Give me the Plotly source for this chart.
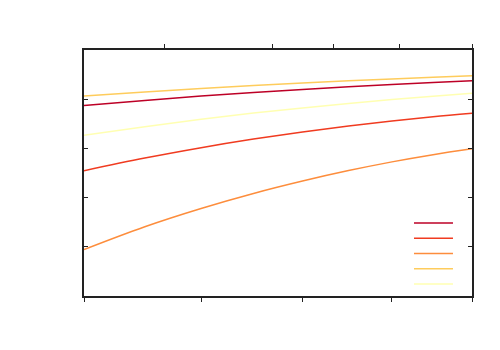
import math
import plotly.graph_objects as go

x_vals = [6, 6.5, 7, 7.5, 8, 8.5, 9, 9.5, 10]

series_dark_red = [3.872, 3.974, 4.063, 4.136, 4.197, 4.252, 4.299, 4.339, 4.376]
series_red_orange = [2.547, 2.803, 3.014, 3.189, 3.335, 3.457, 3.559, 3.644, 3.713]
series_orange = [0.945, 1.409, 1.780, 2.085, 2.337, 2.549, 2.726, 2.872, 2.992]
series_light_orange = [4.065, 4.144, 4.215, 4.276, 4.329, 4.374, 4.413, 4.447, 4.478]
series_pale_yellow = [3.266, 3.441, 3.591, 3.718, 3.823, 3.915, 3.992, 4.059, 4.120]

series = [series_dark_red, series_red_orange, series_orange, series_light_orange, series_pale_yellow]
colors = ["#bd0026", "#f03b20", "#fd8d3c", "#fecc5c", "#ffffb2"]

bottom_ticks = [6, 7, 8, 9, 10]
top_ticks = [20 / 3, 100 / 13, 25 / 3, 100 / 11, 10]
y_ticks = [0, 1, 2, 3, 4, 5]

fig = go.Figure()
for ys, c in zip(series, colors):
    fig.add_trace(go.Scatter(x=x_vals, y=ys, mode="lines",
                             line=dict(color=c, width=1.5, shape="spline"),
                             showlegend=False, hoverinfo="skip"))

# legend keys (the reference legend carries no text)
shapes = []
lx0, lx1 = 0.8505, 0.951
ly_top, ly_step = 0.2967, 0.0620
for i, c in enumerate(colors):
    yy = ly_top - i * ly_step
    shapes.append(dict(type="line", xref="paper", yref="paper",
                       x0=lx0, x1=lx1, y0=yy, y1=yy,
                       line=dict(color=c, width=1.5)))

xr = [math.log10(6), math.log10(10)]

fig.update_layout(
    width=500, height=350,
    margin=dict(l=76, r=36, t=42, b=62),
    paper_bgcolor="white", plot_bgcolor="white",
    shapes=shapes,
    xaxis=dict(type="log", range=xr, tickvals=bottom_ticks, showticklabels=False,
               ticks="outside", ticklen=4, tickwidth=1, tickcolor="#222",
               showline=True, linecolor="#222", linewidth=1.5,
               showgrid=False, zeroline=False),
    xaxis2=dict(type="log", range=xr, tickvals=top_ticks, showticklabels=False,
                overlaying="x", side="top", anchor="y",
                ticks="outside", ticklen=4, tickwidth=1, tickcolor="#222",
                showline=True, linecolor="#222", linewidth=1.5,
                showgrid=False, zeroline=False),
    yaxis=dict(range=[0, 5], tickvals=y_ticks, showticklabels=False,
               ticks="inside", ticklen=4, tickwidth=1, tickcolor="#222",
               showline=True, mirror="ticks", linecolor="#222", linewidth=2,
               showgrid=False, zeroline=False),
)
fig.add_trace(go.Scatter(x=[6, 10], y=[None, None], xaxis="x2", yaxis="y",
                         mode="lines", showlegend=False, hoverinfo="skip"))

fig.write_html("out.html")
